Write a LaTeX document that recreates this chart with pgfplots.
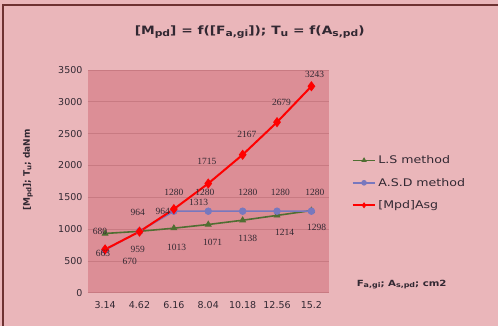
\documentclass[border=0pt]{standalone}
\usepackage{pgfplots}
\pgfplotsset{compat=1.18}
\usepackage{fontspec}
\setmainfont{DejaVu Sans}
\newfontfamily\lblfont{Liberation Serif}
\definecolor{outerbg}{RGB}{234,182,186}
\definecolor{plotbg}{RGB}{220,142,150}
\definecolor{gridc}{RGB}{200,122,130}
\definecolor{frame}{RGB}{110,50,50}
\definecolor{lsgreen}{RGB}{80,110,50}
\definecolor{asdblue}{RGB}{120,120,190}
\definecolor{txt}{RGB}{50,40,50}
\newcommand\wide[1]{\scalebox{1.2}[1]{#1}}
\newcommand\sub[1]{\raisebox{-0.3ex}{\scalebox{0.78}{#1}}}
\begin{document}
\begin{tikzpicture}[x=1pt,y=1pt]
\fill[outerbg] (0,0) rectangle (499,326);
\draw[frame,line width=1.2pt] (3,0) -- (3,321) -- (499,321);
\node[font=\bfseries\fontsize{11.5}{13}\selectfont, text=txt] at (250,294)
  {\wide{[M\sub{pd}] = f([F\sub{a,gi}]); T\sub{u} = f(A\sub{s,pd})}};
\node[font=\bfseries\fontsize{9}{11}\selectfont, text=txt, rotate=90] at (28,156)
  {[M\sub{pd}]; T\sub{u}; daNm};
\node[font=\bfseries\fontsize{8.5}{10}\selectfont, text=txt, anchor=west, inner sep=0pt] at (357,41)
  {\wide{F\sub{a,gi}; A\sub{s,pd}; cm2}};
\begin{axis}[
  at={(88pt,33pt)}, anchor=south west,
  scale only axis, width=241pt, height=223pt,
  xmin=-0.5, xmax=6.5, ymin=0, ymax=3500,
  xtick={0,...,6},
  xticklabels={3.14,4.62,6.16,8.04,10.18,12.56,15.2},
  ytick={0,500,...,3500},
  clip=false,
  axis background/.style={fill=plotbg},
  axis line style={draw=none},
  ymajorgrids, grid style={gridc, line width=0.6pt},
  major tick length=0pt,
  tick label style={font=\fontsize{9.5}{11}\selectfont, text=txt},
  xticklabel style={yshift=-5pt},
  yticklabel style={xshift=-2pt},
  /pgf/number format/assume math mode=true,
  /pgf/number format/1000 sep={},
  legend style={at={(1.095,0.625)}, anchor=north west, draw=none, fill=none,
    font=\fontsize{10.5}{12}\selectfont, text=txt, row sep=9pt, inner sep=0pt},
  legend cell align=left,
  legend image code/.code={\draw[mark repeat=2,mark phase=2,#1,mark size=2.4pt] plot coordinates {(0cm,0cm) (0.4cm,0cm) (0.8cm,0cm)};},
  every node near coord/.style={font=\lblfont\fontsize{9.5}{10}\selectfont, text=txt, inner sep=1pt},
]
\addplot[lsgreen, line width=1.6pt, mark=triangle*, mark size=3.3pt, mark options={fill=lsgreen, line width=0.8pt}]
  coordinates {(0,930) (1,964) (2,1013) (3,1071) (4,1138) (5,1214) (6,1290)};
\addlegendentry{\wide{L.S method}}
\addplot[asdblue, line width=1.6pt, mark=*, mark size=3.3pt, mark options={fill=asdblue, line width=0.8pt}]
  coordinates {(0,670) (1,964) (2,1280) (3,1280) (4,1280) (5,1280) (6,1280)};
\addlegendentry{\wide{A.S.D method}}
\addplot[red, line width=2pt, mark=diamond*, mark size=4.5pt, mark options={fill=red, line width=0.8pt}]
  coordinates {(0,680) (1,959) (2,1313) (3,1715) (4,2167) (5,2679) (6,3243)};
\addlegendentry{\wide{[Mpd]Asg}}
% data labels, placed by their centres
\addplot[draw=none, mark=none, forget plot, point meta=explicit symbolic,
  nodes near coords, nodes near coords align={anchor=center}]
  coordinates {
  (-0.15,957) [680] (-0.06,612) [663] (0.72,487) [670]
  (0.95,1256) [964] (0.95,675) [959] (1.68,1271) [964]
  (2.0,1570) [1280] (2.9,1570) [1280] (4.15,1570) [1280] (5.1,1570) [1280] (6.1,1570) [1280]
  (2.72,1420) [1313]
  (2.96,2056) [1715] (4.12,2480) [2167] (5.13,2982) [2679] (6.09,3422) [3243]
  (2.08,706) [1013] (3.13,785) [1071] (4.15,848) [1138] (5.22,942) [1214] (6.15,1020) [1298]
  };
\end{axis}
\end{tikzpicture}
\end{document}
